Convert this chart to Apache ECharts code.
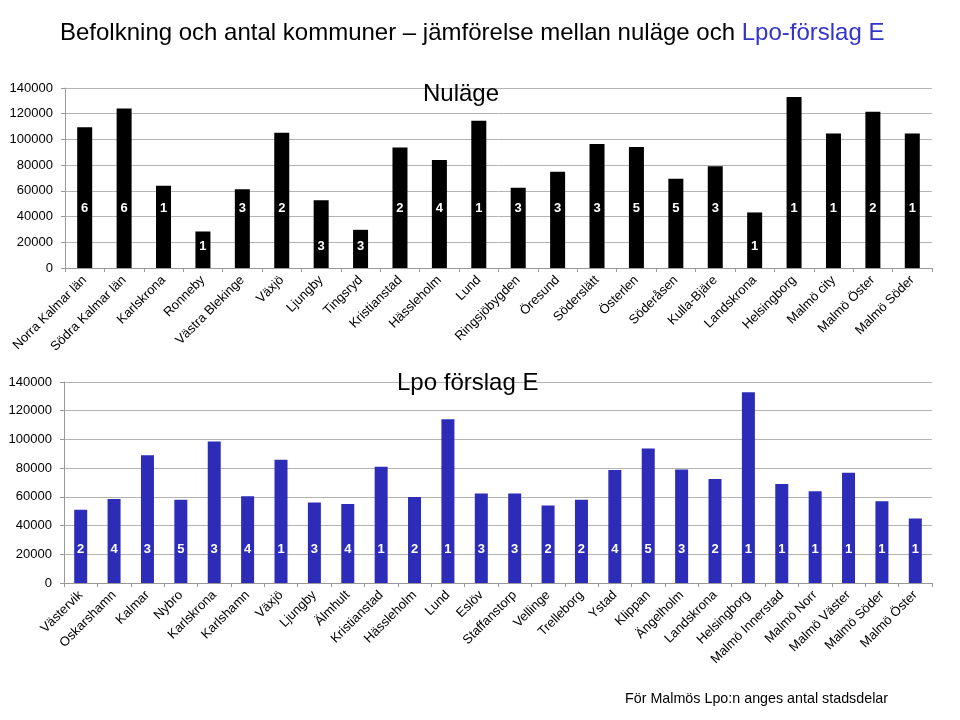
<!DOCTYPE html>
<html><head><meta charset="utf-8">
<script src="https://cdn.jsdelivr.net/npm/echarts@6/dist/echarts.min.js"></script>
<style>html,body{margin:0;padding:0;background:#fff}#c{width:960px;height:720px}</style>
</head><body><div id="c"></div>
<script>
const nowCategories = ['Norra Kalmar län','Södra Kalmar län','Karlskrona','Ronneby','Västra Blekinge','Växjö','Ljungby','Tingsryd','Kristianstad','Hässleholm','Lund','Ringsjöbygden','Öresund','Söderslätt','Österlen','Söderåsen','Kulla-Bjäre','Landskrona','Helsingborg','Malmö city','Malmö Öster','Malmö Söder'];
const nowPopulation = [109500,124000,64000,28400,61200,105100,52600,29700,93700,84000,114500,62400,74900,96500,94200,69500,79100,43200,133000,104600,121500,104600];
const nowCounts = [6,6,1,1,3,2,3,3,2,4,1,3,3,3,5,5,3,1,1,1,2,1];

const lpoCategories = ['Västervik','Oskarshamn','Kalmar','Nybro','Karlskrona','Karlshamn','Växjö','Ljungby','Älmhult','Kristianstad','Hässleholm','Lund','Eslöv','Staffanstorp','Vellinge','Trelleborg','Ystad','Klippan','Ängelholm','Landskrona','Helsingborg','Malmö Innerstad','Malmö Norr','Malmö Väster','Malmö Söder','Malmö Öster'];
const lpoPopulation = [51100,58500,88900,57900,98600,60400,85900,56000,55100,81000,59900,114100,62300,62300,53900,57900,78700,93700,79100,72400,132800,69000,63900,76800,56900,44900];
const lpoCounts = [2,4,3,5,3,4,1,3,4,1,2,1,3,3,2,2,4,5,3,2,1,1,1,1,1,1];

const yTicks = [0,20000,40000,60000,80000,100000,120000,140000];

const FONT = 'Liberation Sans, Arial, sans-serif';
const chart = echarts.init(document.getElementById('c'), null, {renderer:'canvas'});

function xAxis(cats, gi){
  return {
    type:'category', data:cats, gridIndex:gi,
    axisLine:{lineStyle:{color:'#999'}},
    axisTick:{show:true, length:4, lineStyle:{color:'#999'}},
    axisLabel:{rotate:45, interval:0, margin:10, color:'#000', fontSize:13, fontFamily:FONT}
  };
}
function yAxis(gi){
  return {
    type:'value', gridIndex:gi, min:yTicks[0], max:yTicks[yTicks.length-1], interval:20000,
    axisLine:{show:true, lineStyle:{color:'#999'}},
    axisTick:{show:true, length:4, lineStyle:{color:'#999'}},
    splitLine:{lineStyle:{color:'#b4b4b4'}},
    axisLabel:{color:'#000', fontSize:13, fontFamily:FONT, margin:12, formatter:v=>String(v)}
  };
}

const labelBase = {show:true, position:'insideBottom', color:'#fff', fontWeight:'bold', fontSize:13, fontFamily:FONT};

chart.setOption({
  animation:false,
  textStyle:{fontFamily:FONT},
  title:[
    {text:'Befolkning och antal kommuner – jämförelse mellan nuläge och {b|Lpo-förslag E}', left:55, top:16,
     textStyle:{fontSize:24, fontWeight:'normal', color:'#000', fontFamily:FONT, rich:{b:{fontSize:24, color:'#3333cc', fontFamily:FONT}}}},
    {text:'Nuläge', left:418, top:77, textStyle:{fontSize:24, fontWeight:'normal', color:'#000', fontFamily:FONT}},
    {text:'Lpo förslag E', left:392, top:366, textStyle:{fontSize:24, fontWeight:'normal', color:'#000', fontFamily:FONT}},
    {text:'För Malmös Lpo:n anges antal stadsdelar', left:620, top:687, textStyle:{fontSize:14.3, fontWeight:'normal', color:'#000', fontFamily:FONT}}
  ],
  grid:[
    {left:65, right:28, top:88, height:180},
    {left:64, right:28, top:382, height:201}
  ],
  xAxis:[xAxis(nowCategories,0), xAxis(lpoCategories,1)],
  yAxis:[yAxis(0), yAxis(1)],
  series:[
    {type:'bar', xAxisIndex:0, yAxisIndex:0, barWidth:15,
     itemStyle:{color:'#000'},
     data: nowPopulation.map((v,i)=>({value:v, label:{distance: v<55000?15:53}})),
     label:Object.assign({}, labelBase, {formatter:p=>String(nowCounts[p.dataIndex])})},
    {type:'bar', xAxisIndex:1, yAxisIndex:1, barWidth:13,
     itemStyle:{color:'#2c2cb8'},
     data: lpoPopulation,
     label:Object.assign({}, labelBase, {distance:27, formatter:p=>String(lpoCounts[p.dataIndex])})}
  ]
});
</script></body></html>
